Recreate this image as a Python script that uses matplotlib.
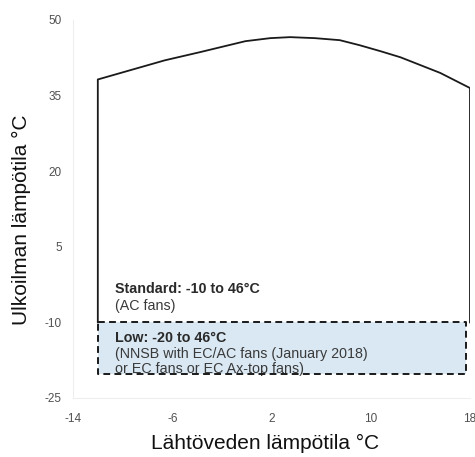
import matplotlib
matplotlib.use("Agg")
import matplotlib.pyplot as plt

# Envelope (water outlet temp vs ambient temp)
env_x = [-12, -12, -6.6, -3.8, -0.1, 1.9, 3.5, 5.5, 7.5, 9.1, 10.8, 12.4, 15.6, 18, 18]
env_y = [-10, 38.2, 42.0, 43.6, 45.8, 46.4, 46.6, 46.4, 46.0, 45.0, 43.8, 42.6, 39.5, 36.5, -10]

# Low ambient option box
low_x = [-12, 17.7]
low_y = [-20.2, -10]

xticks = [-14, -6, 2, 10, 18]
yticks = [-25, -10, 5, 20, 35, 50]

xlabel = "Lähtöveden lämpötila °C"
ylabel = "Ulkoilman lämpötila °C"

plt.rcParams['font.family'] = ['Liberation Sans', 'DejaVu Sans']
plt.rcParams['axes.unicode_minus'] = False

fig = plt.figure(figsize=(4.75, 4.57), dpi=100)
ax = fig.add_axes([73/475, (457-398)/457, (470-73)/475, (398-20)/457])

ax.fill_between(low_x, low_y[0], low_y[1], color='#d9e8f3', zorder=1, lw=0)
ax.plot(env_x, env_y, color='#1a1a1a', lw=1.3, zorder=3)
ax.plot([low_x[0], low_x[1], low_x[1], low_x[0], low_x[0]],
        [low_y[1], low_y[1], low_y[0], low_y[0], low_y[1]],
        color='#1a1a1a', lw=1.4, ls=(0, (3.5, 2.2)), zorder=4)

tc = '#2a2a2a'
tc2 = '#3a3a3a'
fs = 10.3
ax.text(-10.6, -3.3, "Standard: -10 to 46°C", fontsize=fs, fontweight='bold', color=tc, va='center')
ax.text(-10.6, -6.7, "(AC fans)", fontsize=fs, color=tc2, va='center')
ax.text(-10.6, -13.0, "Low: -20 to 46°C", fontsize=fs, fontweight='bold', color=tc, va='center')
ax.text(-10.6, -16.2, "(NNSB with EC/AC fans (January 2018)", fontsize=fs, color=tc2, va='center')
ax.text(-10.6, -19.2, "or EC fans or EC Ax-top fans)", fontsize=fs, color=tc2, va='center')

ax.set_xlim(-14, 18)
ax.set_ylim(-25, 50)
ax.set_xticks(xticks)
ax.set_yticks(yticks)
ax.tick_params(length=0, labelsize=8.5, labelcolor='#505050')
ax.tick_params(axis='x', pad=11)
ax.tick_params(axis='y', pad=8)
for s in ['top', 'right']:
    ax.spines[s].set_visible(False)
for s in ['left', 'bottom']:
    ax.spines[s].set_color('#eeeeee')
    ax.spines[s].set_linewidth(0.8)

ax.set_xlabel(xlabel, fontsize=15, color='#111111')
ax.set_ylabel(ylabel, fontsize=15, color='#111111')
ax.xaxis.set_label_coords(0.484, -0.095)
ax.yaxis.set_label_coords(-0.106, 0.471)

fig.savefig("out.png", dpi=100)
